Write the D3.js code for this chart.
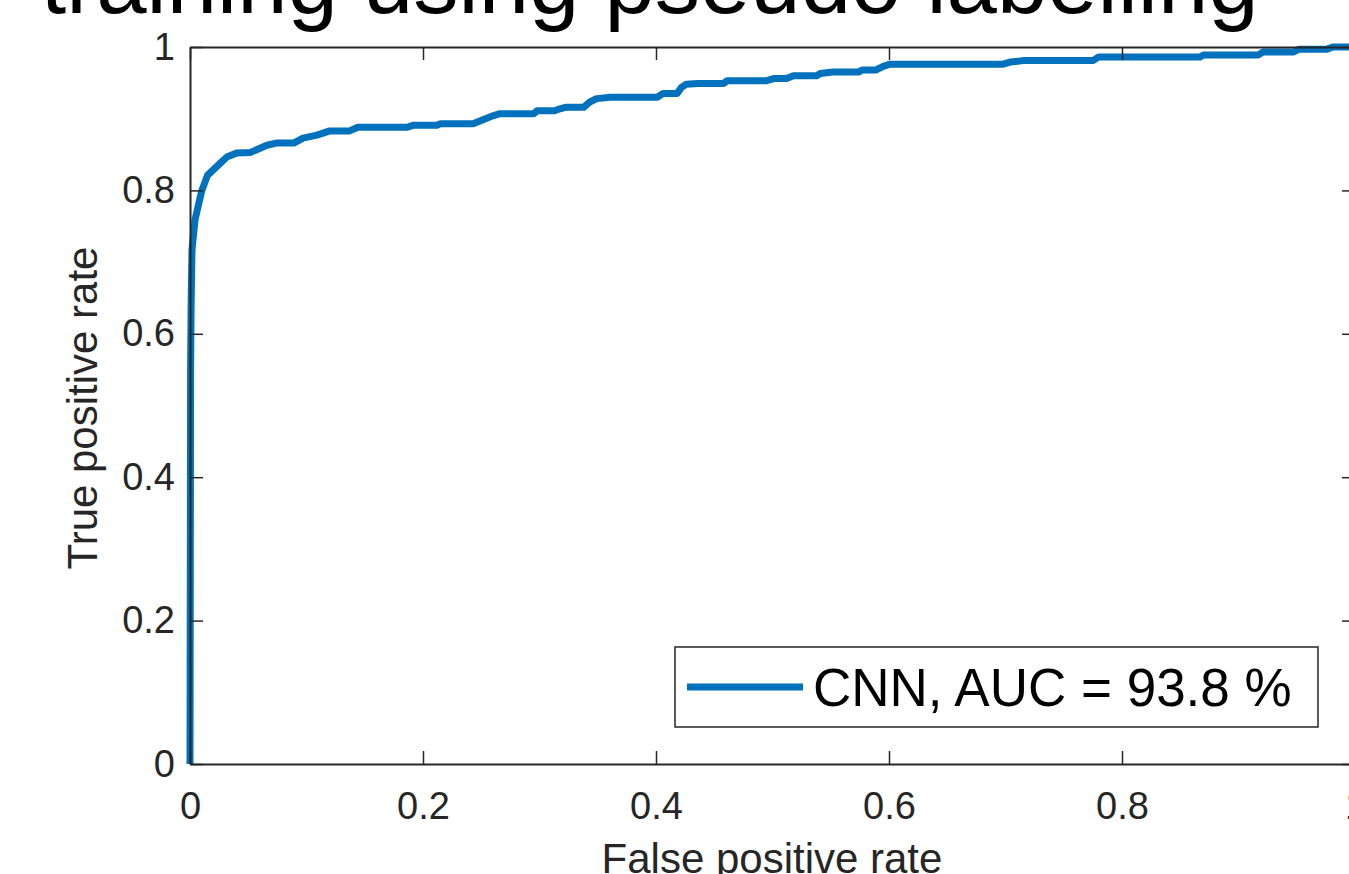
<!DOCTYPE html>
<html>
<head>
<meta charset="utf-8">
<script src="https://cdn.jsdelivr.net/npm/d3@7"></script>
<style>
  body { margin: 0; background: #fff; }
  svg { display: block; }
  text { font-family: "Liberation Sans", Arial, Helvetica, sans-serif; }
</style>
</head>
<body>
<svg id="chart" width="1349" height="874"></svg>
<script>
// ---- data ----
const titleText = "training using pseudo labelling";
const xLabelText = "False positive rate";
const yLabelText = "True positive rate";
const legendText = "CNN, AUC = 93.8 %";

const fpr = [0, 0.0005, 0.001, 0.0017, 0.0043, 0.010, 0.015, 0.026, 0.032, 0.040,
  0.052, 0.066, 0.074, 0.089, 0.097, 0.109, 0.120, 0.137, 0.144, 0.186,
  0.192, 0.212, 0.215, 0.243, 0.252, 0.260, 0.266, 0.295, 0.298, 0.313,
  0.316, 0.323, 0.338, 0.343, 0.349, 0.361, 0.401, 0.406, 0.418, 0.422,
  0.426, 0.436, 0.458, 0.461, 0.495, 0.501, 0.512, 0.518, 0.538, 0.541,
  0.552, 0.574, 0.577, 0.589, 0.595, 0.601, 0.698, 0.704, 0.715, 0.775,
  0.780, 0.867, 0.870, 0.917, 0.921, 0.947, 0.952, 0.976, 0.981, 1.0];
const tpr = [0, 0.55, 0.647, 0.717, 0.759, 0.799, 0.821, 0.838, 0.847, 0.852,
  0.853, 0.863, 0.866, 0.866, 0.873, 0.877, 0.883, 0.883, 0.888, 0.888,
  0.891, 0.891, 0.893, 0.893, 0.899, 0.904, 0.907, 0.907, 0.911, 0.911,
  0.913, 0.916, 0.916, 0.923, 0.928, 0.930, 0.930, 0.935, 0.935, 0.944,
  0.948, 0.949, 0.949, 0.953, 0.953, 0.956, 0.956, 0.960, 0.960, 0.963,
  0.965, 0.965, 0.968, 0.968, 0.973, 0.976, 0.976, 0.979, 0.981, 0.981,
  0.986, 0.986, 0.989, 0.989, 0.993, 0.993, 0.997, 0.997, 1.0, 1.0];

const xTicks = [0, 0.2, 0.4, 0.6, 0.8, 1];
const yTicks = [0, 0.2, 0.4, 0.6, 0.8, 1];
const tickLabels = ["0", "0.2", "0.4", "0.6", "0.8", "1"];

// ---- layout ----
const svg = d3.select("#chart");
const plotL = 190, plotR = 1355, plotT = 47, plotB = 764;
const axisColor = "#262626";
const lineColor = "#0072BD";
const tickLen = 13;

const x = d3.scaleLinear().domain([0, 1]).range([plotL, plotR]);
const y = d3.scaleLinear().domain([0, 1]).range([plotB, plotT]);

// title (only lower part visible)
svg.append("text")
  .attr("x", 41).attr("y", 13)
  .attr("font-size", 90.5)
  .attr("fill", "#000")
  .text(titleText);

// curve
const pts = fpr.map((d, i) => [d, tpr[i]]);
const line = d3.line().x(d => x(d[0])).y(d => y(d[1]));
svg.append("path")
  .datum(pts)
  .attr("d", line)
  .attr("fill", "none")
  .attr("stroke", lineColor)
  .attr("stroke-width", 7)
  .attr("stroke-linejoin", "round");

// bottom axis
const gx = svg.append("g").attr("transform", `translate(0,${plotB})`)
  .call(d3.axisBottom(x).tickValues(xTicks).tickSizeInner(-tickLen).tickSizeOuter(0)
    .tickPadding(tickLen + 15).tickFormat((d, i) => tickLabels[i]));
// left axis
const gy = svg.append("g").attr("transform", `translate(${plotL},0)`)
  .call(d3.axisLeft(y).tickValues(yTicks).tickSizeInner(-tickLen).tickSizeOuter(0)
    .tickPadding(15).tickFormat((d, i) => tickLabels[i]));
// top axis
const gt = svg.append("g").attr("transform", `translate(0,${plotT})`)
  .call(d3.axisTop(x).tickValues(xTicks).tickSizeInner(-tickLen).tickSizeOuter(0).tickFormat(""));
// right axis
const gr = svg.append("g").attr("transform", `translate(${plotR},0)`)
  .call(d3.axisRight(y).tickValues(yTicks).tickSizeInner(-tickLen).tickSizeOuter(0).tickFormat(""));

[gx, gy, gt, gr].forEach(g => {
  g.select(".domain").attr("stroke", axisColor).attr("stroke-width", 2);
  g.selectAll(".tick line").attr("stroke", axisColor).attr("stroke-width", 1.5);
  g.selectAll(".tick text").attr("fill", axisColor)
    .attr("font-size", 38)
    .attr("font-family", '"Liberation Sans", Arial, Helvetica, sans-serif');
});
gx.selectAll(".tick text").attr("dy", "0.71em");

// axis labels
svg.append("text")
  .attr("x", (plotL + plotR) / 2 - 0.5).attr("y", 873)
  .attr("text-anchor", "middle")
  .attr("font-size", 42)
  .attr("fill", axisColor)
  .text(xLabelText);

svg.append("text")
  .attr("transform", `translate(97,408) rotate(-90)`)
  .attr("text-anchor", "middle")
  .attr("font-size", 42)
  .attr("fill", axisColor)
  .text(yLabelText);

// legend
const lg = svg.append("g");
lg.append("rect")
  .attr("x", 675).attr("y", 647).attr("width", 643).attr("height", 80)
  .attr("fill", "#fff").attr("stroke", axisColor).attr("stroke-width", 1.5);
lg.append("line")
  .attr("x1", 687).attr("x2", 803).attr("y1", 687).attr("y2", 687)
  .attr("stroke", lineColor).attr("stroke-width", 7);
lg.append("text")
  .attr("x", 813).attr("y", 706)
  .attr("font-size", 53)
  .attr("fill", "#000")
  .text(legendText);
</script>
</body>
</html>
